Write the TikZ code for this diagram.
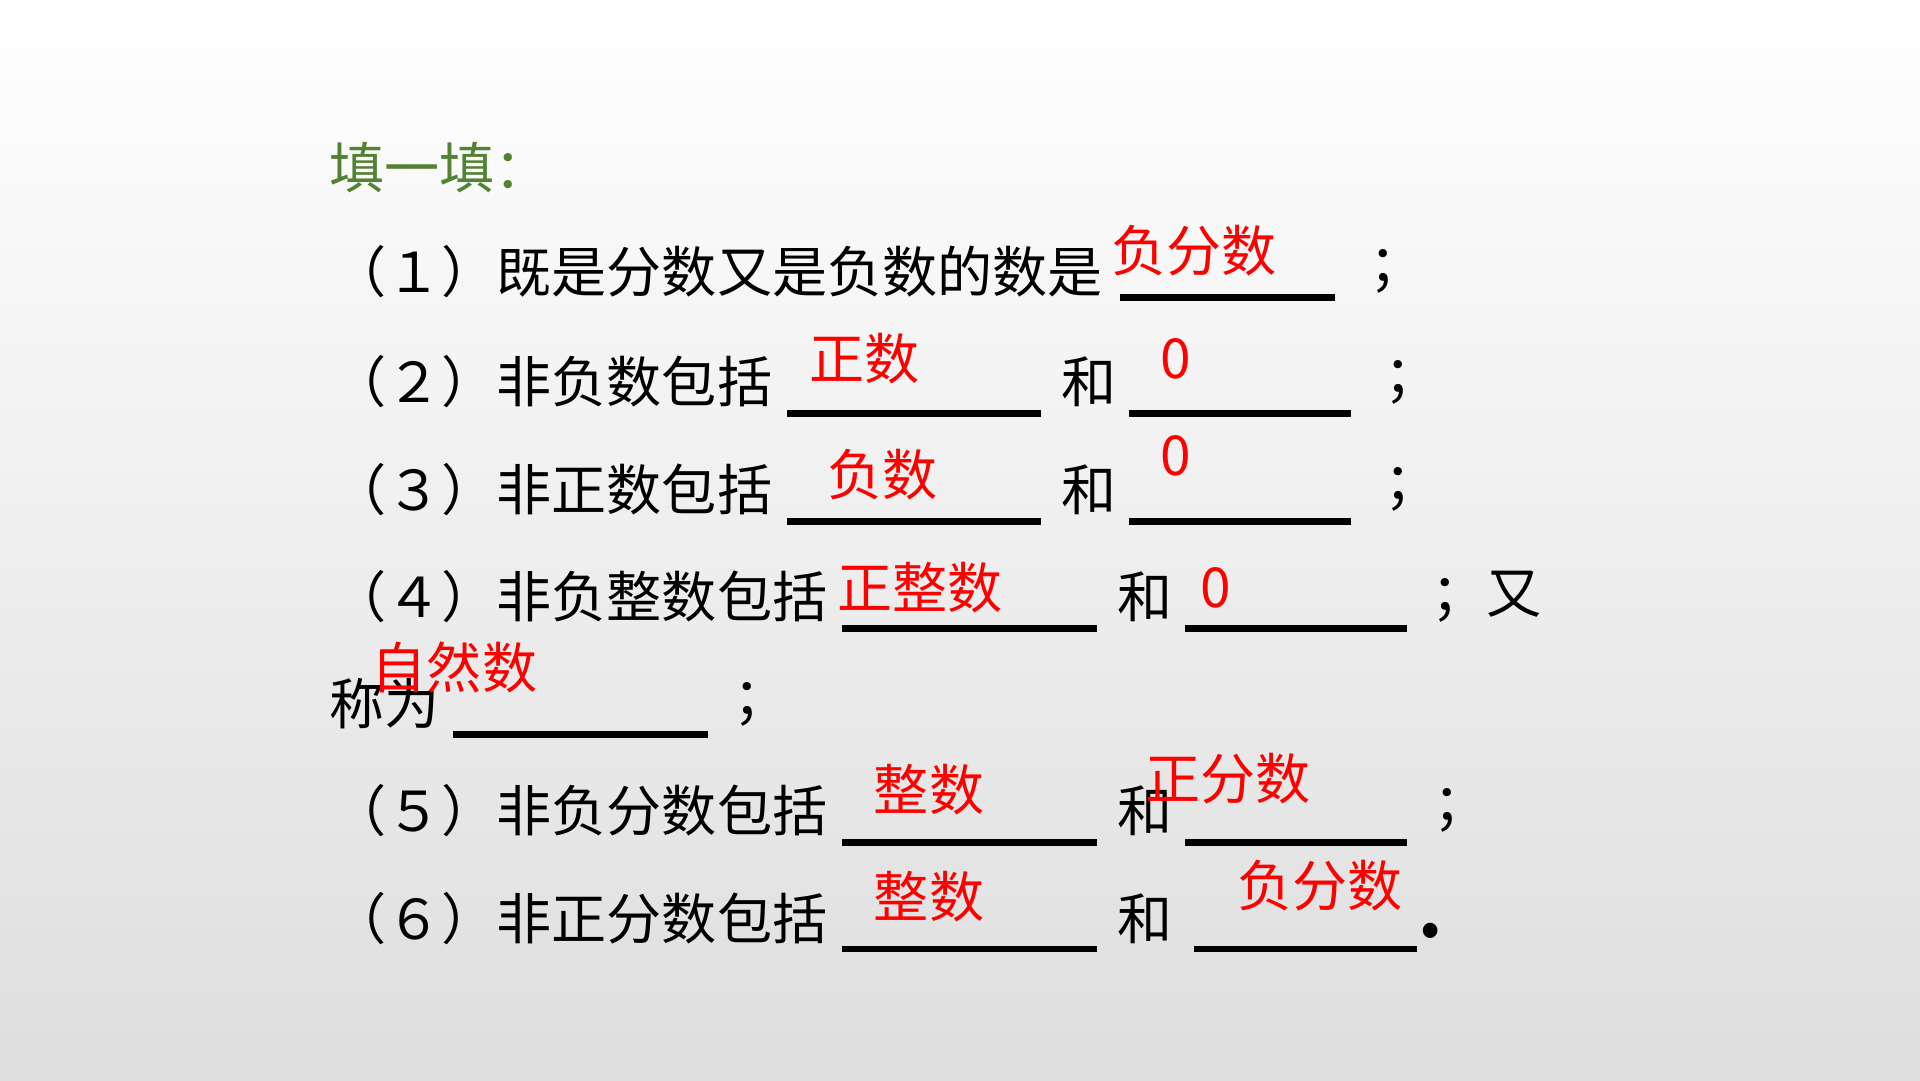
\documentclass[tikz,border=0pt]{standalone}
\usepackage{fontspec}
\setmainfont{Noto Sans CJK SC}
\usetikzlibrary{positioning}
\definecolor{titlegreen}{RGB}{84,130,53}
\tikzset{
  txt/.style={anchor=west,inner sep=0pt,font=\fontsize{12.8}{15}\selectfont},
  ans/.style={txt,text=red},
  blank/.style={line width=1.6pt}
}
\begin{document}
\begin{tikzpicture}[x=0.1mm,y=-0.1mm]
		%%%%% BACKGROUND %%%%%
		\shade[top color=white,bottom color=black!13] (0,0) rectangle (1568,882);
		\useasboundingbox (0,0) rectangle (1568,882);
		
		\node[txt,text=titlegreen] (title) at (268,137) {填一填：};
		
		%%%%% ROW 1 %%%%%
		\node[txt] (q1) at (270,222) {（１）既是分数又是负数的数是};
		\coordinate (b1s) at (915,243); \coordinate (b1e) at (1090,243);
		\draw[blank] (b1s) -- (b1e);
		\node[txt] (s1) at (1118,222) {；};
		\node[ans] (a1) at (907,205) {负分数};
		
		%%%%% ROW 2 %%%%%
		\node[txt] (q2) at (270,312) {（２）非负数包括};
		\coordinate (b2s) at (643,338); \coordinate (b2e) at (850,338);
		\draw[blank] (b2s) -- (b2e);
		\node[txt] (h2) at (866,312) {和};
		\coordinate (c2s) at (922,338); \coordinate (c2e) at (1103,338);
		\draw[blank] (c2s) -- (c2e);
		\node[txt] (s2) at (1130,312) {；};
		\node[ans] (a2) at (660,293) {正数};
		\node[ans,anchor=center] (z2) at (960,293) {0};
		
		%%%%% ROW 3 %%%%%
		\node[txt] (q3) at (270,400) {（３）非正数包括};
		\coordinate (b3s) at (643,426); \coordinate (b3e) at (850,426);
		\draw[blank] (b3s) -- (b3e);
		\node[txt] (h3) at (866,400) {和};
		\coordinate (c3s) at (922,426); \coordinate (c3e) at (1103,426);
		\draw[blank] (c3s) -- (c3e);
		\node[txt] (s3) at (1130,400) {；};
		\node[ans] (a3) at (675,388) {负数};
		\node[ans,anchor=center] (z3) at (960,372) {0};
		
		%%%%% ROW 4 %%%%%
		\node[txt] (q4) at (270,487) {（４）非负整数包括};
		\coordinate (b4s) at (688,513); \coordinate (b4e) at (896,513);
		\draw[blank] (b4s) -- (b4e);
		\node[txt] (h4) at (912,487) {和};
		\coordinate (c4s) at (968,513); \coordinate (c4e) at (1149,513);
		\draw[blank] (c4s) -- (c4e);
		\node[txt] (s4) at (1168,487) {；又};
		\node[ans] (a4) at (683,480) {正整数};
		\node[ans,anchor=center] (z4) at (993,480) {0};
		
		\node[txt] (q4b) at (268,575) {称为};
		\coordinate (b4bs) at (370,600); \coordinate (b4be) at (578,600);
		\draw[blank] (b4bs) -- (b4be);
		\node[txt] (s4b) at (598,575) {；};
		\node[ans] (a4b) at (303,545) {自然数};
		
		%%%%% ROW 5 %%%%%
		\node[txt] (q5) at (270,662) {（５）非负分数包括};
		\coordinate (b5s) at (688,688); \coordinate (b5e) at (896,688);
		\draw[blank] (b5s) -- (b5e);
		\node[txt] (h5) at (912,662) {和};
		\coordinate (c5s) at (968,688); \coordinate (c5e) at (1149,688);
		\draw[blank] (c5s) -- (c5e);
		\node[txt] (s5) at (1170,662) {；};
		\node[ans] (a5) at (713,645) {整数};
		\node[ans] (a5b) at (935,636) {正分数};
		
		%%%%% ROW 6 %%%%%
		\node[txt] (q6) at (270,750) {（６）非正分数包括};
		\coordinate (b6s) at (688,775); \coordinate (b6e) at (896,775);
		\draw[blank] (b6s) -- (b6e);
		\node[txt] (h6) at (912,750) {和};
		\coordinate (c6s) at (975,775); \coordinate (c6e) at (1157,775);
		\draw[blank] (c6s) -- (c6e);
		\node[txt,font=\fontsize{16}{18}\bfseries] (s6) at (1158,760) {.};
		\node[ans] (a6) at (713,732) {整数};
		\node[ans] (a6b) at (1010,723) {负分数};
\end{tikzpicture}
\end{document}
